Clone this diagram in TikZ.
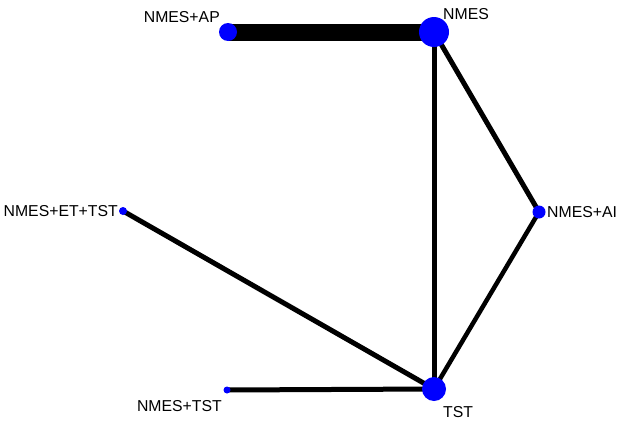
\documentclass[tikz,border=0pt]{standalone}
\usepackage{fontspec}
\setmainfont{Liberation Sans}
\begin{document}
\begin{tikzpicture}[x=1pt,y=-1pt,
  dotnode/.style={circle,fill=blue,inner sep=0pt,minimum size=#1},
  lbl/.style={font=\fontsize{15.8}{18}\selectfont,inner sep=0pt},
  edge/.style={line width=#1,draw=black}]
\useasboundingbox[fill=white] (0,0) rectangle (624,423);
\coordinate (cap) at (228,32);
\coordinate (cn) at (434,32);
\coordinate (cai) at (539,212);
\coordinate (cet) at (123,211);
\coordinate (cts) at (227,390);
\coordinate (ct) at (434,389);
% edges
\draw[edge=17pt] (cap) -- (cn);
\draw[edge=5pt] (cn) -- (ct);
\draw[edge=5pt] (cn) -- (cai);
\draw[edge=4.5pt] (cai) -- (ct);
\draw[edge=5pt] (cet) -- (ct);
\draw[edge=5pt] (cts) -- (ct);
% dots
\node[dotnode=18pt] (ap) at (cap) {};
\node[dotnode=30pt] (nmes) at (cn) {};
\node[dotnode=13pt] (ai) at (cai) {};
\node[dotnode=8pt] (et) at (cet) {};
\node[dotnode=7pt] (ts) at (cts) {};
\node[dotnode=24pt] (tst) at (ct) {};
% labels
\node[lbl,anchor=east] (lap) at (220,17) {NMES+AP};
\node[lbl,anchor=west] (ln) at (443,14) {NMES};
\node[lbl,anchor=west] (lai) at (547,212) {NMES+AI};
\node[lbl,anchor=east] (let) at (118,211) {NMES+ET+TST};
\node[lbl,anchor=east] (lts) at (222,406) {NMES+TST};
\node[lbl,anchor=west] (lt) at (443,412) {TST};
\end{tikzpicture}
\end{document}
